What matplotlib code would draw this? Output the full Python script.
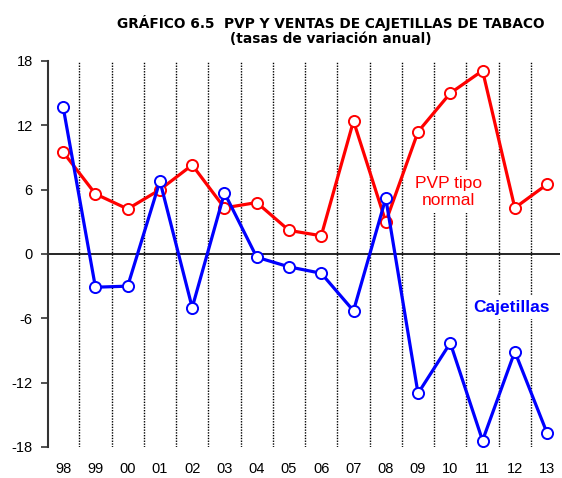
import matplotlib.pyplot as plt
import numpy as np

# Annual growth rates (%), 1998-2013
years = ['98', '99', '00', '01', '02', '03', '04', '05', '06', '07',
         '08', '09', '10', '11', '12', '13']
pvp = [9.5, 5.6, 4.2, 6.0, 8.3, 4.3, 4.8, 2.2, 1.7, 12.4,
       3.0, 11.4, 15.0, 17.1, 4.3, 6.5]
cajetillas = [13.7, -3.1, -3.0, 6.8, -5.0, 5.7, -0.3, -1.2, -1.8, -5.3,
              5.2, -13.0, -8.3, -17.4, -9.1, -16.7]
y_ticks = [-18, -12, -6, 0, 6, 12, 18]

plt.rcParams['font.family'] = ['Liberation Sans', 'DejaVu Sans']
plt.rcParams['axes.unicode_minus'] = False

fig = plt.figure(figsize=(5.62, 4.78), dpi=100)
ax = fig.add_axes([0.0854, 0.0649, 0.911, 0.8075])

x = np.arange(len(years))

# Dotted separators between years
for xv in x[:-1] + 0.5:
    ax.plot([xv, xv], [-18, 18], color='black', lw=1.0,
            linestyle=(0, (1, 1)), zorder=1)

ax.axhline(0, color='black', lw=1.2, zorder=2)

marker_style = dict(marker='o', markersize=8, markerfacecolor='white',
                    markeredgewidth=1.4)
ax.plot(x, pvp, color='#ff0000', lw=2.3, zorder=4,
        markeredgecolor='#ff0000', **marker_style)
ax.plot(x, cajetillas, color='#0000ff', lw=2.3, zorder=5,
        markeredgecolor='#0000ff', **marker_style)

ax.text(11.95, 5.8, 'PVP tipo\nnormal', color='#ff0000', fontsize=12.5,
        ha='center', va='center', linespacing=1.15, zorder=3,
        bbox=dict(facecolor='white', edgecolor='none', pad=4))
ax.text(13.9, -5.0, 'Cajetillas', color='#0000ff', fontsize=12.5,
        fontweight='bold', ha='center', va='center', zorder=3,
        bbox=dict(facecolor='white', edgecolor='none', pad=3))

ax.set_xlim(-0.47, 15.4)
ax.set_ylim(-18, 18)
ax.set_yticks(y_ticks)
ax.set_xticks(x)
ax.set_xticklabels(years)

for side in ['top', 'right', 'bottom']:
    ax.spines[side].set_visible(False)
ax.spines['left'].set_color('#333333')
ax.spines['left'].set_linewidth(1.5)

ax.tick_params(axis='y', direction='out', length=5, width=1.2,
               color='#333333', labelsize=10.5, pad=6)
ax.tick_params(axis='x', length=0, labelsize=10.5, pad=11)

fig.text(0.589, 0.952, 'GRÁFICO 6.5  PVP Y VENTAS DE CAJETILLAS DE TABACO',
         ha='center', va='center', fontsize=9.9, fontweight='bold',
         family='DejaVu Sans')
fig.text(0.589, 0.918, '(tasas de variación anual)', ha='center',
         va='center', fontsize=9.9, fontweight='bold', family='DejaVu Sans')

fig.savefig('out.png', dpi=100)
